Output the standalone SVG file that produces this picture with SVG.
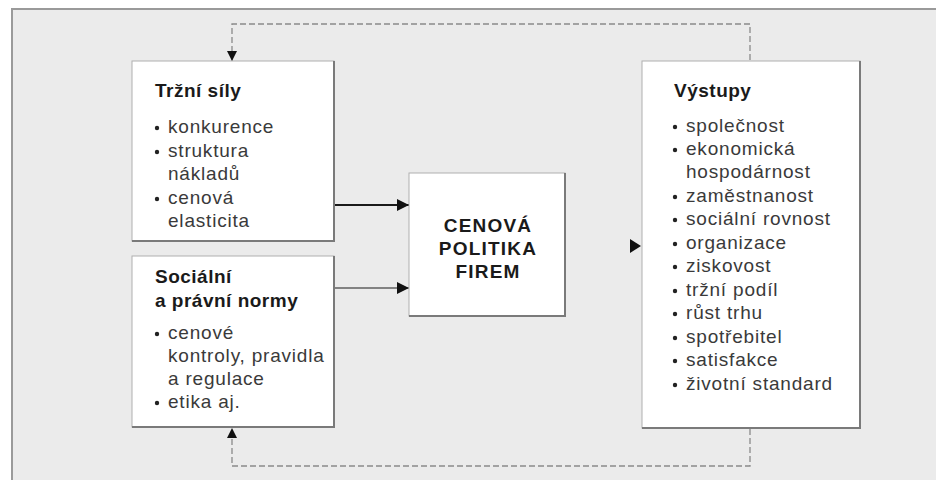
<svg xmlns="http://www.w3.org/2000/svg" width="936" height="480" viewBox="0 0 936 480">
<defs>
<style>
.panel{fill:#ebebeb;stroke:#9a9a9a;stroke-width:2}
.box{fill:#ffffff;stroke:#b0b0b0;stroke-width:1}
.shadow{fill:none;stroke:#7a7a7a;stroke-width:2}
.hd{font-family:"Liberation Sans",Arial,sans-serif;font-weight:bold;font-size:19px;fill:#1a1a1a;letter-spacing:0.5px}
.it{font-family:"Liberation Sans",Arial,sans-serif;font-size:19px;fill:#3a3a3a;letter-spacing:0.8px}
.ct{font-family:"Liberation Sans",Arial,sans-serif;font-weight:bold;font-size:19px;fill:#1a1a1a;letter-spacing:1.2px;text-anchor:middle}
.bul{fill:#222}
.solid{fill:none;stroke:#1a1a1a}
.dash{fill:none;stroke:#8a8a8a;stroke-width:1.3;stroke-dasharray:6 3}
</style>
<marker id="ah" viewBox="0 0 10 10" refX="10" refY="5" markerWidth="12" markerHeight="12" markerUnits="userSpaceOnUse" orient="auto">
<path d="M0,0 L10,5 L0,10 z" fill="#111"/>
</marker>
<marker id="ahs" viewBox="0 0 10 10" refX="10" refY="5" markerWidth="10" markerHeight="10" markerUnits="userSpaceOnUse" orient="auto">
<path d="M0,0 L10,5 L0,10 z" fill="#111"/>
</marker>
</defs>

<rect class="panel" x="12" y="9" width="940" height="490"/>

<g id="connectors">
<line class="solid" x1="335" y1="205" x2="409" y2="205" stroke-width="2" marker-end="url(#ah)"/>
<line class="solid" x1="335" y1="288" x2="409" y2="288" stroke-width="1.2" marker-end="url(#ah)"/>
<path d="M630,239 L641,246 L630,253 Z" fill="#111"/>
<path class="dash" d="M750,60 V24 H232 V61" marker-end="url(#ahs)"/>
<path class="dash" d="M750,429 V466 H232 V428" marker-end="url(#ahs)"/>
</g>

<g id="trzni-sily">
<rect class="box" x="132" y="61" width="202" height="180"/>
<polyline class="shadow" points="334,61 334,241 132,241"/>
<text class="hd" x="155" y="97">Tržní síly</text>
<circle class="bul" cx="157" cy="128" r="2.2"/>
<text class="it" x="168" y="133">konkurence</text>
<circle class="bul" cx="157" cy="152" r="2.2"/>
<text class="it" x="168" y="157">struktura</text>
<text class="it" x="168" y="180">nákladů</text>
<circle class="bul" cx="157" cy="199" r="2.2"/>
<text class="it" x="168" y="204">cenová</text>
<text class="it" x="168" y="227">elasticita</text>
</g>

<g id="socialni-normy">
<rect class="box" x="132" y="256" width="202" height="171"/>
<polyline class="shadow" points="334,256 334,427 132,427"/>
<text class="hd" x="155" y="283">Sociální</text>
<text class="hd" x="155" y="307">a právní normy</text>
<circle class="bul" cx="157" cy="334" r="2.2"/>
<text class="it" x="168" y="339">cenové</text>
<text class="it" x="168" y="362">kontroly, pravidla</text>
<text class="it" x="168" y="385">a regulace</text>
<circle class="bul" cx="157" cy="403" r="2.2"/>
<text class="it" x="168" y="408">etika aj.</text>
</g>

<g id="cenova-politika">
<rect class="box" x="409" y="173" width="156" height="143"/>
<polyline class="shadow" points="565,173 565,316 409,316"/>
<text class="ct" x="488" y="232">CENOVÁ</text>
<text class="ct" x="488" y="255">POLITIKA</text>
<text class="ct" x="488" y="278">FIREM</text>
</g>

<g id="vystupy">
<rect class="box" x="642" y="61" width="218" height="367"/>
<polyline class="shadow" points="860,61 860,428 642,428"/>
<text class="hd" x="674" y="97">Výstupy</text>
<circle class="bul" cx="675" cy="127" r="2.2"/>
<text class="it" x="686" y="132">společnost</text>
<circle class="bul" cx="675" cy="150" r="2.2"/>
<text class="it" x="686" y="155">ekonomická</text>
<text class="it" x="686" y="178">hospodárnost</text>
<circle class="bul" cx="675" cy="197" r="2.2"/>
<text class="it" x="686" y="202">zaměstnanost</text>
<circle class="bul" cx="675" cy="220" r="2.2"/>
<text class="it" x="686" y="225">sociální rovnost</text>
<circle class="bul" cx="675" cy="244" r="2.2"/>
<text class="it" x="686" y="249">organizace</text>
<circle class="bul" cx="675" cy="267" r="2.2"/>
<text class="it" x="686" y="272">ziskovost</text>
<circle class="bul" cx="675" cy="291" r="2.2"/>
<text class="it" x="686" y="296">tržní podíl</text>
<circle class="bul" cx="675" cy="314" r="2.2"/>
<text class="it" x="686" y="319">růst trhu</text>
<circle class="bul" cx="675" cy="338" r="2.2"/>
<text class="it" x="686" y="343">spotřebitel</text>
<circle class="bul" cx="675" cy="361" r="2.2"/>
<text class="it" x="686" y="366">satisfakce</text>
<circle class="bul" cx="675" cy="385" r="2.2"/>
<text class="it" x="686" y="390">životní standard</text>
</g>
</svg>
